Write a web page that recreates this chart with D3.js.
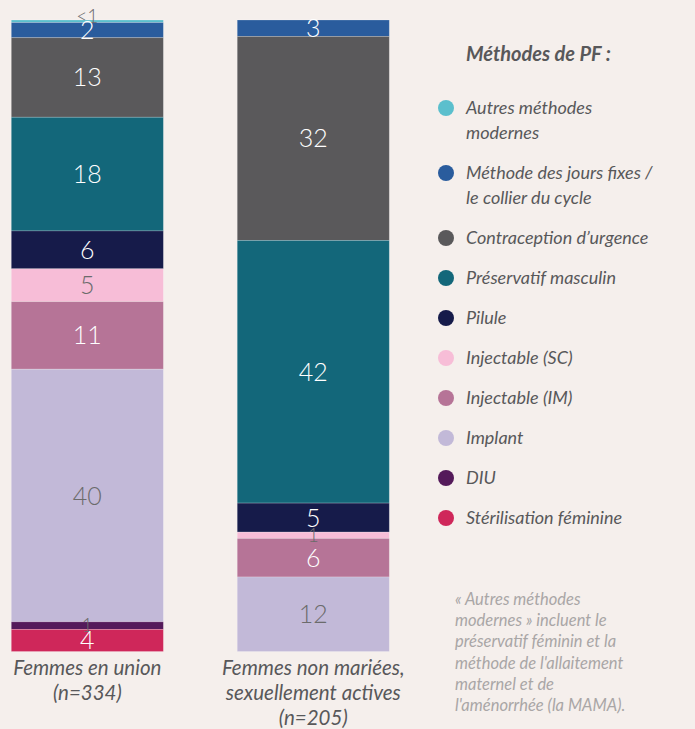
<!DOCTYPE html>
<html>
<head>
<meta charset="utf-8">
<script src="https://cdn.jsdelivr.net/npm/d3@7"></script>
<style>
  body { margin: 0; background: #f5efec; }
  svg { display: block; }
  .numlabel { font-family: Lato, "Open Sans", sans-serif; font-weight: 300; }
  .legendtext { font-family: Lato, sans-serif; font-style: italic; fill: #58585a; font-size: 18px; }
  .catlabel { font-family: Lato, sans-serif; font-style: italic; fill: #58585a; font-size: 20.5px; }
  .note { font-family: Lato, sans-serif; font-style: italic; fill: #a9a6a6; font-size: 16.5px; }
</style>
</head>
<body>
<div id="chart"></div>
<script>
// family planning methods, top of the bar first
const methods = [
  "Autres méthodes modernes",
  "Méthode des jours fixes / le collier du cycle",
  "Contraception d’urgence",
  "Préservatif masculin",
  "Pilule",
  "Injectable (SC)",
  "Injectable (IM)",
  "Implant",
  "DIU",
  "Stérilisation féminine"
];
const legendLines = [
  ["Autres méthodes", "modernes"],
  ["Méthode des jours fixes /", "le collier du cycle"],
  ["Contraception d’urgence"],
  ["Préservatif masculin"],
  ["Pilule"],
  ["Injectable (SC)"],
  ["Injectable (IM)"],
  ["Implant"],
  ["DIU"],
  ["Stérilisation féminine"]
];
const methodColors = ["#5bbfcd", "#2a5c9d", "#5a595b", "#13677a", "#161b4a",
  "#f7bdd7", "#b67497", "#c2b9d8", "#541a5a", "#cf275a"];
// light segments get grey labels
const darkSegment = [false, true, true, true, true, false, true, false, true, true];

const categories = ["Femmes en union", "Femmes non mariées, sexuellement actives"];
const categoryLines = [
  ["Femmes en union", "(n=334)"],
  ["Femmes non mariées,", "sexuellement actives", "(n=205)"]
];

// percentages and the printed labels
const unionValues = [0.4, 2.4, 12.6, 18.0, 6.0, 5.2, 10.7, 40.0, 1.2, 3.5];
const unionLabels = ["<1", "2", "13", "18", "6", "5", "11", "40", "1", "4"];
const unmarriedValues = [0, 2.6, 32.3, 41.6, 4.6, 1.0, 6.1, 11.8, 0, 0];
const unmarriedLabels = ["", "3", "32", "42", "5", "1", "6", "12", "", ""];

const noteLines = [
  "« Autres méthodes",
  "modernes » incluent le",
  "préservatif féminin et la",
  "méthode de l'allaitement",
  "maternel et de",
  "l'aménorrhée (la MAMA)."
];

const width = 695, height = 729;

const valuesByCat = [unionValues, unmarriedValues];
const labelsByCat = [unionLabels, unmarriedLabels];

const rows = categories.map((c, i) => {
  const row = { cat: c };
  methods.forEach((m, j) => { row[m] = valuesByCat[i][j]; });
  return row;
});

const svg = d3.select("#chart").append("svg")
  .attr("width", width)
  .attr("height", height);

svg.append("rect").attr("width", width).attr("height", height).attr("fill", "#f5efec");

const x = d3.scaleBand()
  .domain(categories)
  .range([11.3, 389.3])
  .paddingInner(0.327)
  .paddingOuter(0);

const y = d3.scaleLinear()
  .domain([0, 100])
  .range([651.5, 20]);

const color = d3.scaleOrdinal().domain(methods).range(methodColors);

// first key stacked at the bottom -> reverse so that "Stérilisation" is at the base
const series = d3.stack().keys(methods).order(d3.stackOrderReverse)(rows);

const layers = svg.append("g").attr("class", "bars")
  .selectAll("g")
  .data(series)
  .enter().append("g")
  .attr("fill", d => color(d.key));

layers.selectAll("rect")
  .data(d => d.filter(p => p[1] - p[0] > 0))
  .enter().append("rect")
  .attr("x", d => x(d.data.cat))
  .attr("y", d => y(d[1]))
  .attr("width", x.bandwidth())
  .attr("height", d => y(d[0]) - y(d[1]))
  .attr("stroke", "rgba(255,255,255,0.25)")
  .attr("stroke-width", 0.8);

// value labels
const labelData = [];
series.forEach(s => {
  const mi = methods.indexOf(s.key);
  s.forEach((p, ci) => {
    const v = p[1] - p[0];
    if (v <= 0) return;
    labelData.push({
      cat: p.data.cat, v: v, top: p[1], mid: (p[0] + p[1]) / 2,
      text: labelsByCat[ci][mi], dark: darkSegment[mi]
    });
  });
});

svg.append("g").selectAll("text")
  .data(labelData)
  .enter().append("text")
  .attr("class", "numlabel")
  .attr("text-anchor", "middle")
  .attr("x", d => x(d.cat) + x.bandwidth() / 2)
  .attr("y", d => d.v < 1 ? y(d.top) - 3.5 : y(d.mid))
  .attr("dy", "0.36em")
  .attr("font-size", d => d.v < 2 ? 19 : 25)
  .attr("fill", d => (d.v < 2 || !d.dark) ? "#6b6b6b" : "#ffffff")
  .text(d => d.text);

// category labels under the bars
const cat = svg.append("g").selectAll("text")
  .data(categories)
  .enter().append("text")
  .attr("class", "catlabel")
  .attr("text-anchor", "middle")
  .attr("x", d => x(d) + x.bandwidth() / 2)
  .attr("y", 675);

cat.selectAll("tspan")
  .data((d, i) => categoryLines[i])
  .enter().append("tspan")
  .attr("x", function () { return d3.select(this.parentNode).attr("x"); })
  .attr("dy", (d, i) => i === 0 ? 0 : 25)
  .text(d => d);

// legend
const legend = svg.append("g").attr("class", "legend");

legend.append("text")
  .attr("x", 466)
  .attr("y", 61)
  .attr("font-family", "Lato, sans-serif")
  .attr("font-style", "italic")
  .attr("font-weight", "bold")
  .attr("font-size", 20)
  .attr("fill", "#58585a")
  .text("Méthodes de PF :");

let ly = 114;
const legendPos = legendLines.map(lines => {
  const pos = ly;
  ly += 40 + (lines.length - 1) * 25;
  return pos;
});

const item = legend.selectAll("g.item")
  .data(methods)
  .enter().append("g")
  .attr("class", "item")
  .attr("transform", (d, i) => `translate(0,${legendPos[i]})`);

item.append("circle")
  .attr("cx", 446)
  .attr("cy", -6)
  .attr("r", 8)
  .attr("fill", d => color(d));

item.append("text")
  .attr("class", "legendtext")
  .attr("x", 466)
  .selectAll("tspan")
  .data((d, i) => legendLines[i])
  .enter().append("tspan")
  .attr("x", 466)
  .attr("dy", (d, i) => i === 0 ? 0 : 25)
  .text(d => d);

// footnote
svg.append("text")
  .attr("class", "note")
  .attr("x", 455)
  .attr("y", 605)
  .selectAll("tspan")
  .data(noteLines)
  .enter().append("tspan")
  .attr("x", 455)
  .attr("dy", (d, i) => i === 0 ? 0 : 21.2)
  .text(d => d);
</script>
</body>
</html>
